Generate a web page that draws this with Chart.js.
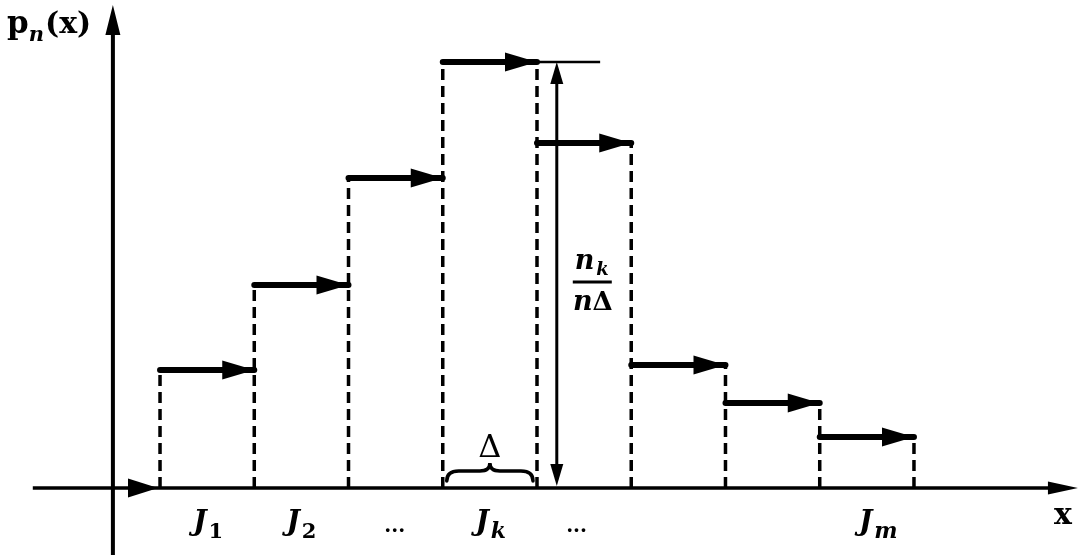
<!DOCTYPE html>
<html>
<head>
<meta charset="utf-8">
<script src="https://cdn.jsdelivr.net/npm/chart.js@4.4.0/dist/chart.umd.min.js"></script>
<style>
  html, body { margin: 0; padding: 0; background: #fff; }
  canvas { display: block; }
</style>
</head>
<body>
<canvas id="histChart" width="1087" height="555"></canvas>
<script>
// --- Data ---
const binEdges = [1, 2, 3, 4, 5, 6, 7, 8, 9];
const binHeights = [1.18, 2.03, 3.10, 4.26, 3.45, 1.23, 0.85, 0.51];
const tickPositions = [1.51, 2.50, 3.49, 4.51, 5.42, 8.62];
const tickMain = ['J', 'J', '...', 'J', '...', 'J'];
const tickSub = ['1', '2', '', 'k', '', 'm'];
const kIndex = 3;          // the bin J_k
const heightMarkerX = 5.21; // where n_k/(nΔ) is measured

// axis extents in data units
const xRange = [-0.698, 10.836];
const yRange = [-0.67, 4.88];
const xAxisFrom = -0.35, xAxisTo = 10.74;
const yAxisAt = 0.5;

const INK = '#000';

// --- Build datasets from the arrays ---
const topPoints = [];
binHeights.forEach((h, i) => {
    topPoints.push({ x: binEdges[i], y: h });
    topPoints.push({ x: binEdges[i + 1], y: h });
    topPoints.push({ x: binEdges[i + 1], y: null });
});

const edgePoints = [];
binEdges.forEach((e, j) => {
    const left = j > 0 ? binHeights[j - 1] : 0;
    const right = j < binHeights.length ? binHeights[j] : 0;
    edgePoints.push({ x: e, y: 0 });
    edgePoints.push({ x: e, y: Math.max(left, right) });
    edgePoints.push({ x: e, y: null });
});

// --- Drawing helpers ---
function arrowHead(ctx, tipX, tipY, dx, dy, len, half) {
    const bx = tipX - dx * len, by = tipY - dy * len;
    ctx.beginPath();
    ctx.moveTo(tipX, tipY);
    ctx.lineTo(bx - dy * half, by + dx * half);
    ctx.lineTo(bx + dy * half, by - dx * half);
    ctx.closePath();
    ctx.fill();
}

function subText(ctx, main, sub, cx, base, mainFont, subFont, subDrop) {
    ctx.font = mainFont;
    const w1 = ctx.measureText(main).width;
    ctx.font = subFont;
    const w2 = sub ? ctx.measureText(sub).width + 2 : 0;
    const x0 = cx - (w1 + w2) / 2;
    ctx.font = mainFont;
    ctx.fillText(main, x0, base);
    if (sub) {
        ctx.font = subFont;
        ctx.fillText(sub, x0 + w1 + 2, base + subDrop);
    }
}

const sketchPlugin = {
    id: 'sketch',
    afterDatasetsDraw(chart) {
        const ctx = chart.ctx;
        const xs = chart.scales.x, ys = chart.scales.y;
        const px = v => xs.getPixelForValue(v);
        const py = v => ys.getPixelForValue(v);
        ctx.save();
        ctx.fillStyle = INK;
        ctx.strokeStyle = INK;
        ctx.lineCap = 'butt';

        // x axis
        const y0 = py(0);
        ctx.lineWidth = 3.5;
        ctx.beginPath();
        ctx.moveTo(px(xAxisFrom), y0);
        ctx.lineTo(px(xAxisTo) - 10, y0);
        ctx.stroke();
        arrowHead(ctx, px(xAxisTo), y0, 1, 0, 30, 6.5);

        // y axis
        const ax = px(yAxisAt);
        ctx.lineWidth = 4;
        ctx.beginPath();
        ctx.moveTo(ax, chart.height);
        ctx.lineTo(ax, chart.chartArea.top + 20);
        ctx.stroke();
        arrowHead(ctx, ax, chart.chartArea.top + 5, 0, -1, 30, 7.5);

        // zero level arrow into first bin
        arrowHead(ctx, px(binEdges[0]) - 2, y0, 1, 0, 30, 9.5);

        // arrowheads on the bin tops
        binHeights.forEach((h, i) => {
            arrowHead(ctx, px(binEdges[i + 1]), py(h), 1, 0, 32, 9.5);
        });

        // thin extension from the top of J_k and the height marker
        const hk = binHeights[kIndex];
        ctx.lineWidth = 2.5;
        ctx.beginPath();
        ctx.moveTo(px(binEdges[kIndex + 1]), py(hk));
        ctx.lineTo(px(5.67), py(hk));
        ctx.stroke();

        const mx = px(heightMarkerX);
        ctx.lineWidth = 3;
        ctx.beginPath();
        ctx.moveTo(mx, py(hk) + 15);
        ctx.lineTo(mx, y0 - 15);
        ctx.stroke();
        arrowHead(ctx, mx, py(hk), 0, -1, 22, 6.5);
        arrowHead(ctx, mx, y0 - 2, 0, 1, 22, 6.5);

        // fraction n_k / (n Δ)
        const fx = mx + 36;
        const fy = py(2.06);
        ctx.lineWidth = 3;
        ctx.beginPath();
        ctx.moveTo(fx - 20, fy);
        ctx.lineTo(fx + 19, fy);
        ctx.stroke();
        ctx.textBaseline = 'alphabetic';
        subText(ctx, 'n', 'k', fx - 1, fy - 13,
            'bold italic 27px "DejaVu Serif"', 'bold italic 18px "DejaVu Serif"', 6);
        ctx.font = 'bold italic 27px "DejaVu Serif"';
        const wn = ctx.measureText('n').width;
        ctx.font = 'bold 26px "DejaVu Serif"';
        const wd = ctx.measureText('Δ').width;
        const dx0 = fx - (wn + wd) / 2;
        ctx.font = 'bold italic 27px "DejaVu Serif"';
        ctx.fillText('n', dx0, fy + 28);
        ctx.font = 'bold 26px "DejaVu Serif"';
        ctx.fillText('Δ', dx0 + wn, fy + 28);

        // brace under J_k with Δ
        const bl = px(binEdges[kIndex]) + 4, br = px(binEdges[kIndex + 1]) - 4;
        const bm = (bl + br) / 2;
        const bb = y0 - 7, bt = y0 - 17, bp = y0 - 25;
        ctx.lineWidth = 3.5;
        ctx.lineCap = 'round';
        ctx.beginPath();
        ctx.moveTo(bl, bb);
        ctx.quadraticCurveTo(bl, bt, bl + 12, bt);
        ctx.lineTo(bm - 10, bt);
        ctx.quadraticCurveTo(bm, bt, bm, bp);
        ctx.quadraticCurveTo(bm, bt, bm + 10, bt);
        ctx.lineTo(br - 12, bt);
        ctx.quadraticCurveTo(br, bt, br, bb);
        ctx.stroke();
        ctx.font = '32px "DejaVu Serif"';
        ctx.textAlign = 'center';
        ctx.fillText('Δ', bm, y0 - 31);
        ctx.textAlign = 'left';

        // tick labels J_1 ... J_m
        tickPositions.forEach((v, i) => {
            const sub = tickSub[i];
            if (sub) {
                const subFont = /[0-9]/.test(sub)
                    ? 'bold 21px "DejaVu Serif"'
                    : 'bold italic 22px "DejaVu Serif"';
                subText(ctx, tickMain[i], sub, px(v), y0 + 42,
                    'bold italic 28px "DejaVu Serif"', subFont, 8);
            } else {
                ctx.font = 'bold 20px "DejaVu Serif"';
                ctx.textAlign = 'center';
                ctx.fillText(tickMain[i], px(v), y0 + 44);
                ctx.textAlign = 'left';
            }
        });

        // axis names
        ctx.font = 'bold 30px "DejaVu Serif"';
        ctx.textAlign = 'center';
        ctx.fillText('x', px(10.58), y0 + 36);
        ctx.textAlign = 'left';

        const top = chart.chartArea.top;
        ctx.font = 'bold 31px "DejaVu Serif"';
        ctx.fillText('p', 7, top + 33);
        const wp = ctx.measureText('p').width;
        ctx.font = 'bold italic 21px "DejaVu Serif"';
        ctx.fillText('n', 7 + wp, top + 41);
        const wsub = ctx.measureText('n').width;
        ctx.font = 'bold 30px "DejaVu Serif"';
        ctx.fillText('(x)', 7 + wp + wsub + 1, top + 33);

        ctx.restore();
    }
};

new Chart(document.getElementById('histChart'), {
    type: 'line',
    data: {
        datasets: [
            {
                label: 'edges',
                data: edgePoints,
                borderColor: INK,
                borderWidth: 3.5,
                borderDash: [11, 6],
                pointRadius: 0,
                spanGaps: false,
                tension: 0
            },
            {
                label: 'tops',
                data: topPoints,
                borderColor: INK,
                borderWidth: 6,
                borderCapStyle: 'round',
                pointRadius: 0,
                spanGaps: false,
                tension: 0
            }
        ]
    },
    options: {
        responsive: false,
        animation: false,
        devicePixelRatio: 1,
        layout: { padding: 0 },
        plugins: {
            legend: { display: false },
            tooltip: { enabled: false }
        },
        scales: {
            x: { type: 'linear', min: xRange[0], max: xRange[1], display: false },
            y: { type: 'linear', min: yRange[0], max: yRange[1], display: false }
        }
    },
    plugins: [sketchPlugin]
});
</script>
</body>
</html>
